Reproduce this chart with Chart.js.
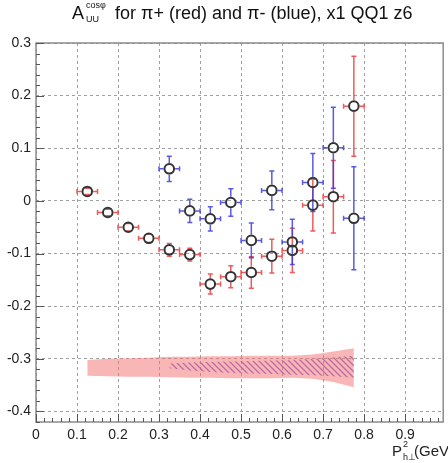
<!DOCTYPE html>
<html>
<head>
<meta charset="utf-8">
<script src="https://cdn.jsdelivr.net/npm/chart.js@4.4.0/dist/chart.umd.min.js"></script>
<style>
  html, body { margin: 0; padding: 0; background: #fff; }
</style>
</head>
<body>
<canvas id="asym" width="448" height="463"></canvas>
<script>
// P_h_perp^2 bin centres (GeV^2), half bin width used as x error
var binX = [0.125, 0.175, 0.225, 0.275, 0.325, 0.375, 0.425, 0.475, 0.525, 0.575, 0.625, 0.675, 0.725, 0.775]
var binHalfWidth = 0.025

// pi+ asymmetry and stat. error
var piPlusA   = [0.018, -0.022, -0.050, -0.071, -0.093, -0.102, -0.158, -0.144, -0.136, -0.105, -0.094, -0.008, 0.008, 0.180]
var piPlusErr = [0.006, 0.006, 0.007, 0.008, 0.012, 0.012, 0.019, 0.021, 0.030, 0.032, 0.042, 0.049, 0.069, 0.095]

// pi- only filled from 0.325 on
var piMinusX   = [0.325, 0.375, 0.425, 0.475, 0.525, 0.575, 0.625, 0.675, 0.725, 0.775]
var piMinusA   = [0.061, -0.019, -0.034, -0.003, -0.075, 0.020, -0.078, 0.035, 0.101, -0.033]
var piMinusErr = [0.024, 0.022, 0.023, 0.026, 0.033, 0.037, 0.043, 0.055, 0.077, 0.098]

// systematic bands drawn around -0.3
var sysPlusTop    = [-0.302, -0.300, -0.299, -0.298, -0.296, -0.296, -0.295, -0.295, -0.294, -0.294, -0.294, -0.292, -0.286, -0.280]
var sysPlusBottom = [-0.332, -0.333, -0.334, -0.334, -0.335, -0.336, -0.336, -0.337, -0.337, -0.337, -0.336, -0.338, -0.344, -0.354]
var sysMinusTop    = [-0.309, -0.307, -0.306, -0.305, -0.304, -0.303, -0.302, -0.300, -0.297, -0.294]
var sysMinusBottom = [-0.318, -0.322, -0.325, -0.327, -0.328, -0.329, -0.330, -0.331, -0.333, -0.336]

var xTicks = [0, 0.1, 0.2, 0.3, 0.4, 0.5, 0.6, 0.7, 0.8, 0.9]
var yTicks = [-0.4, -0.3, -0.2, -0.1, 0, 0.1, 0.2, 0.3]

var redBar = 'rgba(236,60,60,0.85)'
var blueBar = 'rgba(60,60,225,0.85)'
var markerR = 4.8

function pts(xs, ys){
	return xs.map(function(x, i){ return {x: x, y: ys[i]} })
}

function hatch(color){
	var c = document.createElement('canvas')
	c.width = 6; c.height = 6
	var g = c.getContext('2d')
	g.strokeStyle = color
	g.lineWidth = 1.3
	g.beginPath()
	g.moveTo(-1, -1); g.lineTo(7, 7)
	g.moveTo(-1, 5); g.lineTo(1, 7)
	g.moveTo(5, -1); g.lineTo(7, 1)
	g.stroke()
	return g.createPattern(c, 'repeat')
}

function fmt(v){
	return Math.abs(v) < 1e-9 ? '0' : String(Math.round(v * 10) / 10)
}

// ROOT-like error bars with end caps and a gap around the marker
function drawErrors(ctx, xs, ys, es, color, chart){
	var sx = chart.scales.x, sy = chart.scales.y
	var gap = markerR + 1, cap = 2.5
	ctx.save()
	ctx.strokeStyle = color
	ctx.lineWidth = 1.5
	ctx.beginPath()
	for(var i = 0; i < xs.length; i++){
		var px = sx.getPixelForValue(xs[i]), py = sy.getPixelForValue(ys[i])
		var xl = sx.getPixelForValue(xs[i] - binHalfWidth), xr = sx.getPixelForValue(xs[i] + binHalfWidth)
		var yt = sy.getPixelForValue(ys[i] + es[i]), yb = sy.getPixelForValue(ys[i] - es[i])
		ctx.moveTo(xl, py); ctx.lineTo(px - gap, py)
		ctx.moveTo(px + gap, py); ctx.lineTo(xr, py)
		ctx.moveTo(xl, py - cap); ctx.lineTo(xl, py + cap)
		ctx.moveTo(xr, py - cap); ctx.lineTo(xr, py + cap)
		if(py - yt > gap){
			ctx.moveTo(px, py - gap); ctx.lineTo(px, yt)
			ctx.moveTo(px, py + gap); ctx.lineTo(px, yb)
		}
		ctx.moveTo(px - cap, yt); ctx.lineTo(px + cap, yt)
		ctx.moveTo(px - cap, yb); ctx.lineTo(px + cap, yb)
	}
	ctx.stroke()
	ctx.restore()
}

var rootFrame = {
	id: 'rootFrame',
	beforeDatasetsDraw: function(chart){
		var ctx = chart.ctx
		drawErrors(ctx, binX, piPlusA, piPlusErr, redBar, chart)
		drawErrors(ctx, piMinusX, piMinusA, piMinusErr, blueBar, chart)
	},
	afterDraw: function(chart){
		var ctx = chart.ctx, a = chart.chartArea
		var sx = chart.scales.x, sy = chart.scales.y
		ctx.save()
		// frame
		ctx.strokeStyle = '#8c8c8c'
		ctx.lineWidth = 1.5
		ctx.strokeRect(a.left, a.top, a.right - a.left + 2, a.bottom - a.top)
		// inward ticks, 5 minor divisions
		ctx.lineWidth = 1
		ctx.strokeStyle = '#555'
		ctx.beginPath()
		for(var v = -0.42; v <= 0.3001; v += 0.02){
			var py = Math.round(sy.getPixelForValue(v)) + 0.5
			var major = Math.abs(v * 10 - Math.round(v * 10)) < 1e-6
			ctx.moveTo(a.left, py); ctx.lineTo(a.left + (major ? 8 : 4), py)
		}
		for(var u = 0; u <= 0.99; u += 0.02){
			var px = Math.round(sx.getPixelForValue(u)) + 0.5
			var majorX = Math.abs(u * 10 - Math.round(u * 10)) < 1e-6
			ctx.moveTo(px, a.bottom); ctx.lineTo(px, a.bottom - (majorX ? 8 : 4))
		}
		ctx.stroke()

		// title: A_UU^cosphi for ...
		ctx.fillStyle = '#111'
		ctx.textBaseline = 'alphabetic'
		ctx.textAlign = 'left'
		ctx.font = '18px "Liberation Sans"'
		ctx.fillText('A', 72, 19)
		ctx.font = '9px "Liberation Sans"'
		ctx.fillText('cos\u03c6', 86, 8)
		ctx.fillText('UU', 86, 22)
		var rest = 'for \u03c0+ (red) and \u03c0- (blue), x1 QQ1 z6'
		ctx.font = '16px "Liberation Sans"'
		var size = 16 * 298 / ctx.measureText(rest).width
		ctx.font = size.toFixed(1) + 'px "Liberation Sans"'
		ctx.fillText(rest, 115, 19)

		// x axis title
		ctx.fillStyle = '#222'
		ctx.font = '15px "Liberation Sans"'
		ctx.fillText('P', 392, 456)
		ctx.font = '9px "Liberation Sans"'
		ctx.fillText('2', 403, 447)
		ctx.fillText('h\u22a5', 403, 460)
		ctx.font = '15px "Liberation Sans"'
		ctx.fillText('(GeV', 414, 456)
		var w2 = ctx.measureText('(GeV').width
		ctx.font = '9px "Liberation Sans"'
		ctx.fillText('2', 415 + w2, 448)
		ctx.restore()
	}
}

var ctx = document.getElementById('asym').getContext('2d')
var asym = new Chart(ctx, {
	type: 'scatter',
	data: {
		datasets: [
			{ data: pts(binX, sysPlusBottom), showLine: true, borderWidth: 0, pointRadius: 0, fill: false },
			{ data: pts(binX, sysPlusTop), showLine: true, borderWidth: 0, pointRadius: 0, fill: '-1', backgroundColor: 'rgba(242,110,110,0.5)' },
			{ data: pts(piMinusX, sysMinusBottom), showLine: true, borderWidth: 0, pointRadius: 0, fill: false },
			{ data: pts(piMinusX, sysMinusTop), showLine: true, borderWidth: 0, pointRadius: 0, fill: '-1', backgroundColor: hatch('rgba(105,70,205,0.8)') },
			{ data: pts(binX, piPlusA), pointRadius: markerR, pointBorderWidth: 2, pointBorderColor: '#333', pointBackgroundColor: 'rgba(0,0,0,0)' },
			{ data: pts(piMinusX, piMinusA), pointRadius: markerR, pointBorderWidth: 2, pointBorderColor: '#333', pointBackgroundColor: 'rgba(0,0,0,0)' }
		]
	},
	options: {
		responsive: false,
		animation: false,
		layout: { padding: { top: 43, right: 0, left: 0, bottom: 0 } },
		plugins: { legend: { display: false }, tooltip: { enabled: false } },
		scales: {
			x: {
				type: 'linear', min: 0, max: 0.988,
				afterBuildTicks: function(s){ s.ticks = xTicks.map(function(v){ return {value: v} }) },
				afterFit: function(s){ s.height = 41 },
				grid: { color: '#a0a0a0', lineWidth: 1, drawTicks: false },
				border: { display: false, dash: [3, 3] },
				ticks: { padding: 5, color: '#222', font: { family: 'Liberation Sans', size: 14 }, maxRotation: 0, autoSkip: false, callback: fmt }
			},
			y: {
				type: 'linear', min: -0.42, max: 0.3,
				afterBuildTicks: function(s){ s.ticks = yTicks.map(function(v){ return {value: v} }) },
				afterFit: function(s){ s.width = 36 },
				grid: { color: '#a0a0a0', lineWidth: 1, drawTicks: false },
				border: { display: false, dash: [3, 3] },
				ticks: { padding: 5, color: '#222', font: { family: 'Liberation Sans', size: 14 }, autoSkip: false, callback: fmt }
			}
		}
	},
	plugins: [rootFrame]
})
</script>
</body>
</html>
